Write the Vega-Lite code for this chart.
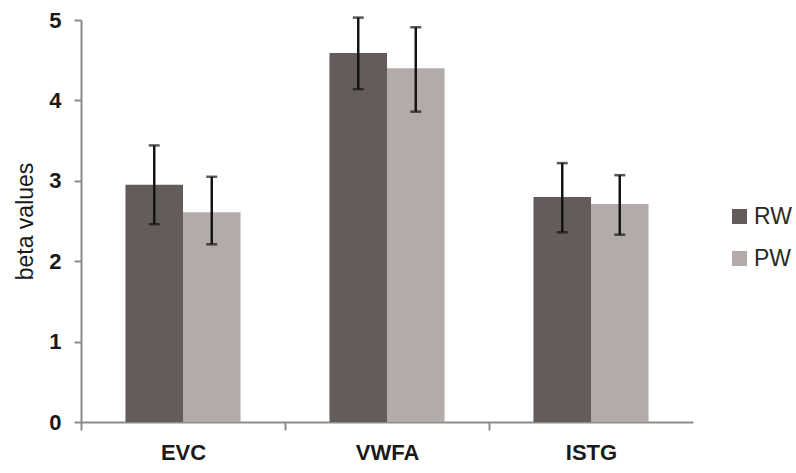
{
  "$schema": "https://vega.github.io/schema/vega-lite/v6.json",
  "width": 612,
  "height": 402,
  "autosize": "none",
  "padding": {"left": 81, "top": 20, "right": 103, "bottom": 51},
  "background": "white",
  "config": {
    "view": {"stroke": null},
    "font": "Liberation Sans",
    "axisY": {
      "grid": false, "labelFontSize": 22, "labelFontWeight": "bold", "labelColor": "#1a1a1a",
      "titleFontSize": 23, "titleFontWeight": "normal", "titleColor": "#1a1a1a", "titlePadding": 11,
      "domainColor": "#8c8c8c", "domainWidth": 2, "tickColor": "#8c8c8c", "tickWidth": 2,
      "tickSize": 7, "labelPadding": 13
    },
    "axisX": {
      "labelAngle": 0, "labelFontSize": 22, "labelFontWeight": "bold", "labelColor": "#1a1a1a",
      "domainColor": "#8c8c8c", "domainWidth": 2, "tickColor": "#8c8c8c", "tickWidth": 2,
      "tickSize": 8, "labelPadding": 12
    }
  },
  "data": {"values": [
    {"region": "EVC", "cond": "RW", "beta": 2.95, "lo": 2.46, "hi": 3.44},
    {"region": "EVC", "cond": "PW", "beta": 2.61, "lo": 2.21, "hi": 3.05},
    {"region": "VWFA", "cond": "RW", "beta": 4.59, "lo": 4.14, "hi": 5.03},
    {"region": "VWFA", "cond": "PW", "beta": 4.40, "lo": 3.86, "hi": 4.91},
    {"region": "ISTG", "cond": "RW", "beta": 2.80, "lo": 2.36, "hi": 3.22},
    {"region": "ISTG", "cond": "PW", "beta": 2.71, "lo": 2.33, "hi": 3.07}
  ]},
  "encoding": {
    "x": {
      "field": "region", "type": "nominal", "sort": ["EVC", "VWFA", "ISTG"],
      "scale": {"paddingInner": 0.436, "paddingOuter": 0.218},
      "axis": {"title": null, "tickOffset": -102, "labelOffset": 102}
    },
    "xOffset": {"field": "cond", "type": "nominal", "sort": ["RW", "PW"], "scale": {"paddingInner": 0, "paddingOuter": 0}}
  },
  "layer": [
    {
      "mark": {"type": "bar"},
      "encoding": {
        "y": {
          "field": "beta", "type": "quantitative", "title": "beta values",
          "scale": {"domain": [0, 5]},
          "axis": {"values": [0, 1, 2, 3, 4, 5], "format": "d", "title": "beta values"}
        },
        "color": {
          "field": "cond", "type": "nominal", "sort": ["RW", "PW"],
          "scale": {"domain": ["RW", "PW"], "range": ["#645c5a", "#b2aba9"]},
          "legend": {
            "orient": "none", "legendX": 647, "legendY": 185, "title": null,
            "symbolType": "square", "symbolSize": 225, "symbolStrokeWidth": 0,
            "labelFontSize": 23, "labelFontWeight": "normal", "labelColor": "#2a2a2a", "rowPadding": 18, "labelOffset": 3
          }
        }
      }
    },
    {
      "mark": {"type": "rule", "color": "#141414", "strokeWidth": 2.5},
      "encoding": {
        "y": {"field": "lo", "type": "quantitative", "title": "beta values", "axis": {"values": [0, 1, 2, 3, 4, 5], "format": "d", "title": "beta values"}},
        "y2": {"field": "hi"}
      }
    },
    {
      "mark": {"type": "tick", "orient": "horizontal", "color": "#141414", "thickness": 2.5, "size": 11},
      "encoding": {"y": {"field": "hi", "type": "quantitative", "title": "beta values", "axis": {"values": [0, 1, 2, 3, 4, 5], "format": "d", "title": "beta values"}}}
    },
    {
      "mark": {"type": "tick", "orient": "horizontal", "color": "#141414", "thickness": 2.5, "size": 11},
      "encoding": {"y": {"field": "lo", "type": "quantitative", "title": "beta values", "axis": {"values": [0, 1, 2, 3, 4, 5], "format": "d", "title": "beta values"}}}
    }
  ]
}
